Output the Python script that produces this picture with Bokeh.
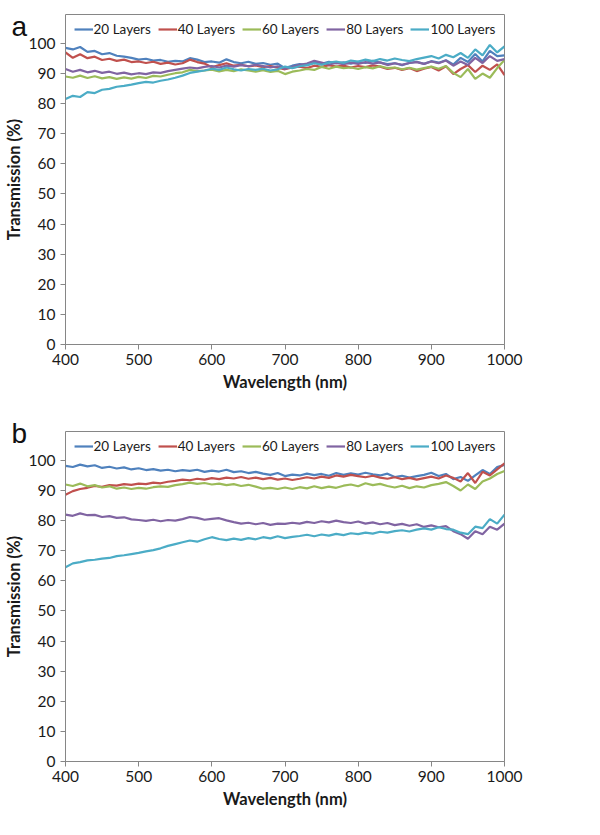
from bokeh.plotting import figure
from bokeh.layouts import column
from bokeh.models import Range1d, FixedTicker, Label
from bokeh.embed import file_html
from bokeh.resources import INLINE

# ---------------- data ----------------
wavelength = list(range(400, 1001, 10))
series_names = ["20 Layers", "40 Layers", "60 Layers", "80 Layers", "100 Layers"]
colors = ["#4F81BD", "#C0504D", "#9BBB59", "#8064A2", "#4BACC6"]
x_ticks = [400, 500, 600, 700, 800, 900, 1000]
y_ticks = [0, 10, 20, 30, 40, 50, 60, 70, 80, 90, 100]

a_20 = [98.5, 98.0, 98.8, 97.2, 97.5, 96.4, 96.8, 95.9, 95.6, 95.2,
        94.6, 94.9, 94.3, 94.5, 93.9, 94.2, 94.0, 95.1, 94.6, 93.8,
        94.0, 93.6, 94.7, 93.8, 93.4, 93.9, 93.2, 93.5, 92.9, 93.3,
        91.8, 92.6, 93.1, 92.8, 93.6, 93.2, 93.9, 93.4, 93.7, 93.3,
        93.9, 93.5, 94.2, 93.6, 93.1, 93.4, 92.8, 93.5, 93.9, 93.2,
        94.1, 93.6, 94.4, 93.0, 95.2, 93.8, 96.5, 94.0, 97.5, 95.8,
        96.0]
a_40 = [97.0, 95.2, 96.4, 95.1, 95.6, 94.5, 94.9, 94.2, 94.6, 93.8,
        94.0, 93.5, 93.9, 93.2, 93.6, 93.0, 93.4, 94.6, 93.8, 93.3,
        92.1, 92.8, 93.4, 92.6, 92.9, 92.4, 92.7, 92.1, 92.5, 91.9,
        91.4, 92.0, 92.3, 91.8, 92.6, 92.2, 92.8, 92.3, 92.6, 92.0,
        92.5, 92.1, 92.7, 92.3, 91.5, 91.9, 91.2, 91.8, 90.8, 91.6,
        92.2, 91.0, 92.4, 89.8, 91.5, 92.8, 90.5, 92.6, 91.2, 93.0,
        89.5]
a_60 = [89.0, 88.6, 89.3, 88.5, 89.1, 88.4, 88.8, 88.2, 88.7, 88.3,
        88.9, 88.5, 89.2, 89.0, 89.6, 90.1, 90.4, 91.2, 90.8, 91.0,
        91.3, 90.7, 91.2, 90.8, 91.4, 91.0, 90.6, 91.1, 90.5, 90.9,
        89.8, 90.6, 91.0, 91.5, 91.2, 92.2, 91.6, 92.3, 91.8, 92.0,
        91.5, 92.1, 91.7, 92.4, 91.8, 92.0, 91.4, 91.9, 91.3, 91.8,
        92.3, 91.6, 92.5, 90.2, 88.8, 91.5, 88.2, 90.0, 88.6, 91.8,
        94.5]
a_80 = [91.5, 90.6, 91.2, 90.4, 90.9, 90.2, 90.6, 89.9, 90.3, 89.7,
        90.1, 89.8, 90.4, 90.2, 90.8, 91.2, 91.6, 92.0, 91.7, 92.2,
        92.5, 92.0, 92.6, 92.3, 92.8, 92.4, 92.9, 92.5, 92.0, 92.4,
        91.6, 92.2, 92.9, 93.3, 94.2, 93.6, 93.0, 93.5, 93.1, 93.6,
        93.2, 93.8, 93.3, 93.7, 92.8, 93.4, 92.9, 93.5, 93.8, 93.2,
        94.0, 93.4, 94.3, 92.6, 94.0, 92.8, 95.2, 93.5, 95.8, 94.2,
        94.8]
a_100 = [81.5, 82.6, 82.2, 83.8, 83.5, 84.6, 84.9, 85.6, 85.9, 86.3,
         86.8, 87.2, 87.0, 87.6, 88.0, 88.6, 89.3, 90.2, 90.6, 91.0,
         91.6, 91.2, 92.0, 91.4, 91.0, 91.5, 91.2, 91.6, 91.0, 91.4,
         92.3, 91.8, 92.4, 92.8, 93.4, 92.9, 93.6, 94.0, 93.5, 94.3,
         94.0, 94.6, 94.1, 94.8, 94.3, 95.0, 94.5, 94.1, 94.8, 95.3,
         95.8, 95.0, 96.2, 95.4, 96.8, 95.2, 98.0, 96.0, 99.5, 97.0,
         99.0]

b_20 = [98.2, 97.8, 98.6, 98.0, 98.4, 97.5, 97.9, 97.3, 97.7, 97.0,
        97.4, 96.8, 97.1, 96.6, 96.9, 96.4, 96.8, 96.5, 96.9, 96.2,
        96.6, 96.3, 96.9, 96.1, 96.4, 95.8, 96.2, 95.6, 95.2, 95.8,
        94.8, 95.3, 95.0, 95.6, 95.1, 95.5, 94.9, 95.8, 95.2, 95.7,
        95.3, 95.9, 95.4, 95.0, 95.6, 94.5, 94.9, 94.3, 94.8, 95.2,
        95.9, 94.8, 95.5, 93.8, 94.5, 93.2, 95.0, 96.8, 95.5, 97.8,
        98.5]
b_40 = [88.6, 89.8, 90.5, 90.9, 91.5, 91.2, 91.8, 91.6, 92.1, 91.9,
        92.3, 92.1, 92.6, 92.4, 92.9, 93.2, 93.6, 93.4, 93.9, 93.6,
        94.1, 93.8, 94.3, 94.0, 94.5, 93.9, 94.3, 93.8, 94.2, 93.6,
        94.0, 93.5, 93.9, 94.4, 94.0, 94.6, 94.2, 95.0, 94.6, 95.2,
        94.8, 94.4, 94.9, 94.3, 93.9, 94.4, 93.8, 94.2, 93.6, 94.1,
        94.6, 94.0, 95.0, 94.2, 93.0, 95.8, 92.5, 96.2, 95.0, 97.0,
        99.0]
b_60 = [92.0, 91.5, 92.3, 91.4, 91.8, 91.0, 91.4, 90.6, 91.0, 90.5,
        90.9, 90.6, 91.1, 91.4, 91.2, 91.8, 92.1, 92.6, 92.2, 92.5,
        92.0, 92.3, 91.8, 92.1, 91.5, 91.9, 91.3, 90.6, 90.9, 90.5,
        91.0, 90.5, 91.1, 90.7, 91.4, 90.8, 91.3, 90.9, 91.6, 92.0,
        91.4, 92.4, 91.8, 92.2, 91.5, 91.0, 91.6, 90.8, 91.4, 91.0,
        91.8, 92.2, 92.8, 91.5, 90.0, 92.0, 90.5, 93.0, 94.0, 95.5,
        96.5]
b_80 = [82.0, 81.6, 82.4, 81.8, 81.9, 81.2, 81.5, 80.9, 81.1, 80.4,
        80.2, 79.9, 80.3, 79.8, 80.2, 80.0, 80.5, 81.2, 80.9, 80.3,
        80.6, 80.8, 80.1, 79.5, 79.0, 79.3, 78.8, 79.2, 78.6, 79.0,
        78.9, 79.3, 79.0, 79.6, 79.2, 79.8, 79.4, 80.0, 79.5, 79.2,
        79.7, 79.0, 79.4, 78.8, 79.2, 78.5, 78.9, 78.3, 78.8, 77.9,
        78.4, 77.8, 78.2, 76.5, 75.5, 74.0, 76.5, 75.5, 78.0, 77.0,
        79.0]
b_100 = [64.5, 65.8, 66.2, 66.8, 67.0, 67.4, 67.6, 68.2, 68.5, 68.9,
         69.3, 69.8, 70.2, 70.8, 71.6, 72.2, 72.8, 73.4, 73.0, 73.8,
         74.5, 73.9, 73.5, 74.0, 73.6, 74.2, 73.8, 74.5, 74.1, 74.8,
         74.2, 74.6, 74.9, 75.3, 74.8, 75.4, 75.0, 75.6, 75.2, 75.8,
         75.5, 76.0, 75.7, 76.3, 76.0, 76.5, 76.8, 76.4, 77.0, 77.4,
         77.0, 77.8, 77.2, 77.0, 76.0, 75.5, 78.0, 77.5, 80.5, 79.0,
         82.0]

panel_a = [a_20, a_40, a_60, a_80, a_100]
panel_b = [b_20, b_40, b_60, b_80, b_100]

FONT = "Lato"
GRAY = "#868686"
TXT = "#1a1a1a"
Y_TOP = 109.6


def make_panel(letter, data, border_top, border_bottom, fh, letter_x, letter_y):
    p = figure(frame_width=439, frame_height=fh,
               x_range=Range1d(400, 1000), y_range=Range1d(0, Y_TOP),
               output_backend="svg", toolbar_location=None,
               min_border_left=55, min_border_right=40,
               min_border_top=border_top, min_border_bottom=border_bottom)
    p.xgrid.visible = False
    p.ygrid.visible = False
    p.outline_line_color = GRAY
    p.outline_line_width = 1
    p.background_fill_color = "white"
    p.border_fill_color = "white"

    for name, col, ys in zip(series_names, colors, data):
        p.line(wavelength, ys, line_color=col, line_width=2.2, legend_label=name)

    for ax in (p.xaxis, p.yaxis):
        ax.axis_line_color = GRAY
        ax.major_tick_line_color = GRAY
        ax.major_tick_in = 0
        ax.major_tick_out = 5
        ax.minor_tick_line_color = None
        ax.major_label_text_font = FONT
        ax.major_label_text_font_size = "15.5px"
        ax.major_label_text_color = TXT
        ax.axis_label_text_font = FONT
        ax.axis_label_text_font_style = "bold"
        ax.axis_label_text_font_size = "16.5px"
        ax.axis_label_text_color = TXT
    p.xaxis.ticker = FixedTicker(ticks=x_ticks)
    p.yaxis.ticker = FixedTicker(ticks=y_ticks)
    p.yaxis.bounds = (0, 100)
    p.xaxis.major_label_standoff = 4
    p.yaxis.major_label_standoff = 5
    p.xaxis.axis_label = "Wavelength (nm)"
    p.xaxis.axis_label_standoff = 4
    p.yaxis.axis_label = "Transmission (%)"
    p.yaxis.axis_label_standoff = 2

    # panel letter: kept in a side panel (so it is not clipped to the frame),
    # positioned in data units to the upper left of the frame
    p.add_layout(Label(x=letter_x, y=letter_y, text=letter, text_align="left",
                       text_baseline="alphabetic", text_font="Liberation Sans",
                       text_font_size="28px", text_color="#111111"), "right")

    lg = p.legend[0]
    lg.orientation = "horizontal"
    lg.location = "top_center"
    lg.border_line_alpha = 0
    lg.background_fill_alpha = 0
    lg.label_text_font = FONT
    lg.label_text_font_size = "13.5px"
    lg.label_text_color = TXT
    lg.glyph_width = 19
    lg.glyph_height = 16
    lg.label_height = 16
    lg.label_standoff = 1
    lg.spacing = 7
    lg.padding = 2
    lg.margin = 5
    return p


pa = make_panel("a", panel_a, 14, 51, 330, letter_x=326.2, letter_y=105.6)
pb = make_panel("b", panel_b, 36, 57, 330, letter_x=326.2, letter_y=108.9)

layout = column(pa, pb, spacing=0)
open("out.html", "w").write(file_html(layout, INLINE))
